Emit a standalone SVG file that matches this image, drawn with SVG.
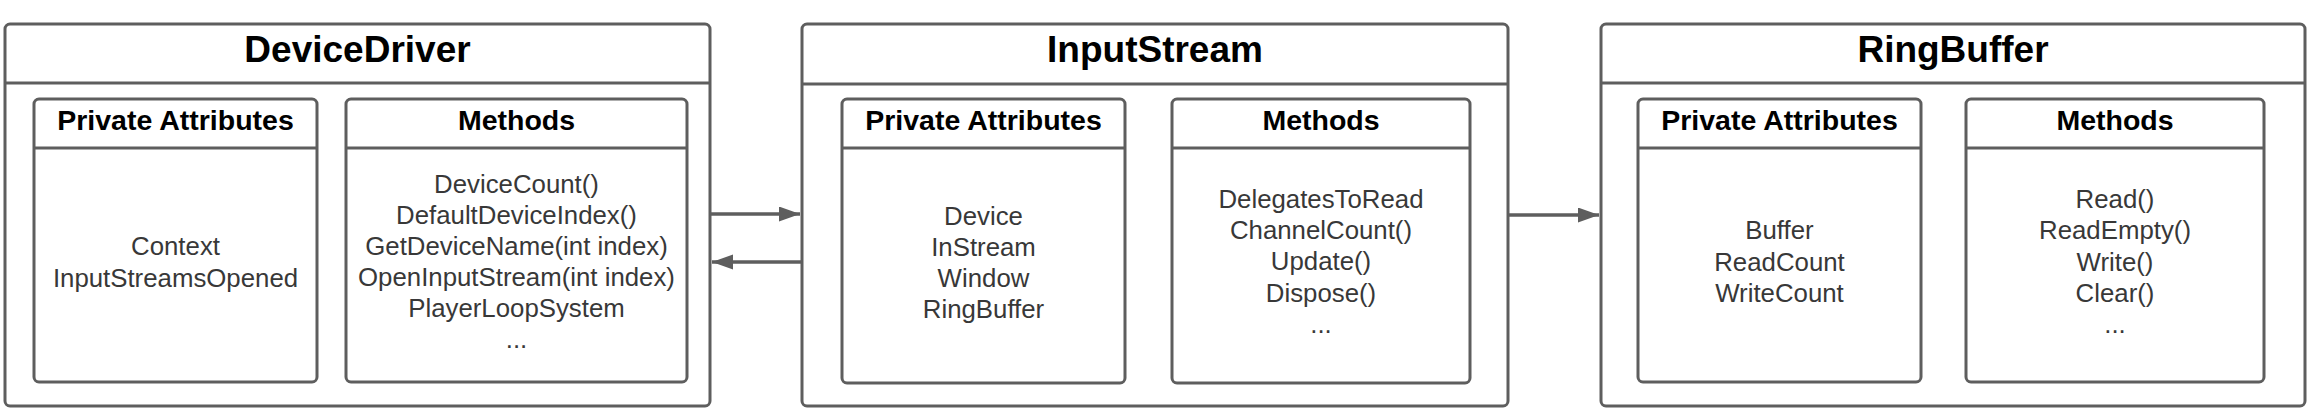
<svg xmlns="http://www.w3.org/2000/svg" width="2310" height="414" viewBox="0 0 2310 414">
<style>
.box{fill:#fff;stroke:#5e5e5e;stroke-width:3}
.div{stroke:#5e5e5e;stroke-width:3;fill:none}
.title{font-family:"Liberation Sans",Arial,sans-serif;font-weight:bold;font-size:37px;fill:#000;text-anchor:middle}
.sec{font-family:"Liberation Sans",Arial,sans-serif;font-weight:bold;font-size:28.5px;fill:#000;text-anchor:middle}
.body{font-family:"Liberation Sans",Arial,sans-serif;font-size:25.8px;fill:#383838;text-anchor:middle}
.conn{stroke:#5e5e5e;stroke-width:3.5;fill:none}
</style>
<defs>
<marker id="arr" markerUnits="userSpaceOnUse" markerWidth="22" markerHeight="16" refX="21" refY="7.5" orient="auto">
<path d="M0,0 L21,7.5 L0,15 z" fill="#5e5e5e"/>
</marker>
</defs>
<rect width="2310" height="414" fill="#fff"/>

<g id="DeviceDriver">
<rect class="box" x="5" y="24" width="705" height="382" rx="5"/>
<line class="div" x1="5" y1="83" x2="710" y2="83"/>
<text class="title" x="357.5" y="62">DeviceDriver</text>
<g id="DeviceDriver-attributes">
<rect class="box" x="34" y="99" width="283" height="283" rx="5"/>
<line class="div" x1="34" y1="148" x2="317" y2="148"/>
<text class="sec" x="175.5" y="130">Private Attributes</text>
<text class="body" x="175.5" y="255">Context</text>
<text class="body" x="175.5" y="287">InputStreamsOpened</text>
</g>
<g id="DeviceDriver-methods">
<rect class="box" x="346" y="99" width="341" height="283" rx="5"/>
<line class="div" x1="346" y1="148" x2="687" y2="148"/>
<text class="sec" x="516.5" y="130">Methods</text>
<text class="body" x="516.5" y="193">DeviceCount()</text>
<text class="body" x="516.5" y="224">DefaultDeviceIndex()</text>
<text class="body" x="516.5" y="255">GetDeviceName(int index)</text>
<text class="body" x="516.5" y="286">OpenInputStream(int index)</text>
<text class="body" x="516.5" y="317">PlayerLoopSystem</text>
<text class="body" x="516.5" y="348">...</text>
</g>
</g>

<g id="InputStream">
<rect class="box" x="802" y="24" width="706" height="382" rx="5"/>
<line class="div" x1="802" y1="84" x2="1508" y2="84"/>
<text class="title" x="1155" y="62">InputStream</text>
<g id="InputStream-attributes">
<rect class="box" x="842" y="99" width="283" height="284" rx="5"/>
<line class="div" x1="842" y1="148" x2="1125" y2="148"/>
<text class="sec" x="983.5" y="130">Private Attributes</text>
<text class="body" x="983.5" y="225">Device</text>
<text class="body" x="983.5" y="256">InStream</text>
<text class="body" x="983.5" y="287">Window</text>
<text class="body" x="983.5" y="318">RingBuffer</text>
</g>
<g id="InputStream-methods">
<rect class="box" x="1172" y="99" width="298" height="284" rx="5"/>
<line class="div" x1="1172" y1="148" x2="1470" y2="148"/>
<text class="sec" x="1321" y="130">Methods</text>
<text class="body" x="1321" y="208">DelegatesToRead</text>
<text class="body" x="1321" y="239">ChannelCount()</text>
<text class="body" x="1321" y="270">Update()</text>
<text class="body" x="1321" y="302">Dispose()</text>
<text class="body" x="1321" y="333">...</text>
</g>
</g>

<g id="RingBuffer">
<rect class="box" x="1601" y="24" width="704" height="382" rx="5"/>
<line class="div" x1="1601" y1="83" x2="2305" y2="83"/>
<text class="title" x="1953" y="62">RingBuffer</text>
<g id="RingBuffer-attributes">
<rect class="box" x="1638" y="99" width="283" height="283" rx="5"/>
<line class="div" x1="1638" y1="148" x2="1921" y2="148"/>
<text class="sec" x="1779.5" y="130">Private Attributes</text>
<text class="body" x="1779.5" y="239">Buffer</text>
<text class="body" x="1779.5" y="271">ReadCount</text>
<text class="body" x="1779.5" y="302">WriteCount</text>
</g>
<g id="RingBuffer-methods">
<rect class="box" x="1966" y="99" width="298" height="283" rx="5"/>
<line class="div" x1="1966" y1="148" x2="2264" y2="148"/>
<text class="sec" x="2115" y="130">Methods</text>
<text class="body" x="2115" y="208">Read()</text>
<text class="body" x="2115" y="239">ReadEmpty()</text>
<text class="body" x="2115" y="271">Write()</text>
<text class="body" x="2115" y="302">Clear()</text>
<text class="body" x="2115" y="333">...</text>
</g>
</g>

<g id="connectors">
<line class="conn" x1="711" y1="214" x2="800" y2="214" marker-end="url(#arr)"/>
<line class="conn" x1="801" y1="262" x2="712" y2="262" marker-end="url(#arr)"/>
<line class="conn" x1="1509" y1="215" x2="1599" y2="215" marker-end="url(#arr)"/>
</g>
</svg>
